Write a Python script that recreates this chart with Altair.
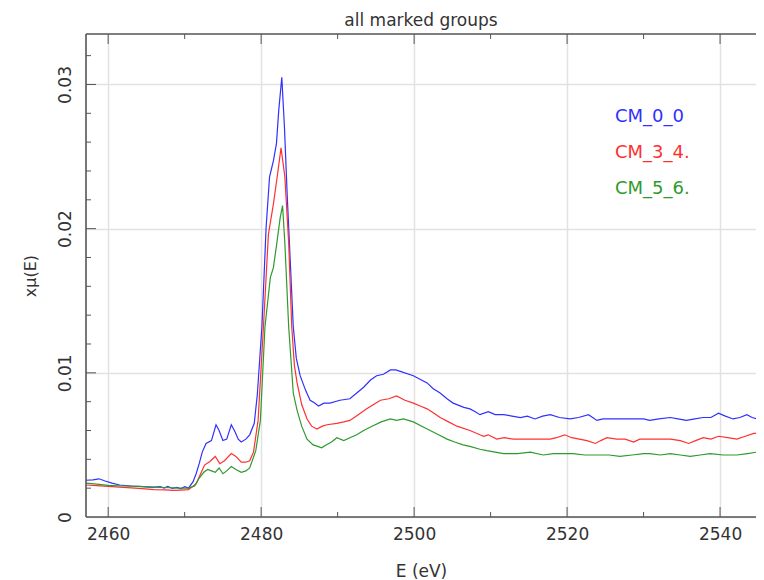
import altair as alt
import pandas as pd

# ---------------- data ----------------
series_names = ["CM_0_0", "CM_3_4.", "CM_5_6."]
series_colors = ["#3030ff", "#ff3030", "#2e9a2e"]

e_blue = [2457.1, 2458.0, 2458.8, 2459.6, 2460.5, 2461.5, 2463.0, 2464.5, 2465.8, 2466.8,
          2467.3, 2467.8, 2468.4, 2469.0, 2469.5, 2470.0, 2470.5, 2471.1, 2471.5, 2471.9,
          2472.3, 2472.8, 2473.5, 2474.1, 2474.5, 2475.0, 2475.5, 2476.1, 2476.6, 2477.0,
          2477.4, 2478.0, 2478.5, 2479.1, 2479.5, 2480.1, 2480.65, 2481.1, 2481.6, 2482.0,
          2482.3, 2482.7, 2483.05, 2483.4, 2483.8, 2484.2, 2484.6, 2485.1, 2485.8, 2486.4,
          2487.0, 2487.5, 2488.2, 2489.0, 2490.3, 2491.6, 2492.5, 2493.4, 2494.3, 2495.1,
          2496.0, 2496.9, 2497.6, 2498.2, 2499.9, 2501.7, 2502.5, 2503.4, 2504.3, 2505.1,
          2506.5, 2507.3, 2508.0, 2508.6, 2509.7, 2510.6, 2511.7, 2512.8, 2513.9, 2514.8,
          2515.8, 2516.8, 2517.8, 2519.0, 2520.4, 2521.5, 2522.8, 2523.9, 2524.7, 2525.6,
          2527.4, 2529.1, 2530.0, 2530.8, 2532.0, 2533.5, 2534.5, 2535.6, 2536.7, 2537.8,
          2538.8, 2539.8, 2540.7, 2541.7, 2542.6, 2543.5, 2544.2, 2544.8, 2545.5]
mu_blue = [0.00255, 0.00258, 0.00265, 0.00250, 0.00235, 0.00222, 0.00215, 0.00210, 0.00205, 0.00210,
           0.00200, 0.00212, 0.00198, 0.00205, 0.00195, 0.00210, 0.00200, 0.00245, 0.00300, 0.00370,
           0.00450, 0.00510, 0.00530, 0.00640, 0.00600, 0.00530, 0.00540, 0.00640, 0.00590, 0.00540,
           0.00520, 0.00540, 0.00570, 0.00650, 0.00850, 0.01320, 0.02010, 0.02360, 0.02470, 0.02590,
           0.02820, 0.03050, 0.02700, 0.02240, 0.01780, 0.01320, 0.01100, 0.00980, 0.00880, 0.00810,
           0.00790, 0.00770, 0.00790, 0.00790, 0.00810, 0.00820, 0.00860, 0.00900, 0.00950, 0.00980,
           0.00990, 0.01020, 0.01020, 0.01010, 0.00980, 0.00930, 0.00890, 0.00860, 0.00820, 0.00790,
           0.00760, 0.00750, 0.00730, 0.00710, 0.00730, 0.00710, 0.00710, 0.00700, 0.00690, 0.00700,
           0.00680, 0.00700, 0.00710, 0.00690, 0.00680, 0.00690, 0.00710, 0.00670, 0.00680, 0.00680,
           0.00680, 0.00680, 0.00680, 0.00670, 0.00680, 0.00690, 0.00680, 0.00670, 0.00680, 0.00690,
           0.00690, 0.00720, 0.00700, 0.00680, 0.00690, 0.00710, 0.00690, 0.00680, 0.00710]

e_red = [2457.1, 2458.5, 2460.0, 2462.0, 2464.0, 2466.0, 2467.5, 2468.5, 2469.5, 2470.5,
         2471.5, 2472.0, 2472.6, 2473.3, 2474.0, 2474.6, 2475.2, 2476.1, 2476.7, 2477.4,
         2478.0, 2478.5, 2479.0, 2479.6, 2480.3, 2480.95, 2481.6, 2482.1, 2482.6, 2483.1,
         2483.6, 2484.0, 2484.35, 2484.7, 2485.3, 2486.0, 2486.6, 2487.3, 2488.0, 2488.6,
         2489.9, 2490.8, 2491.6, 2492.7, 2493.8, 2494.7, 2495.6, 2496.7, 2497.7, 2498.8,
         2499.9, 2500.8, 2501.7, 2502.6, 2503.4, 2504.5, 2505.6, 2507.3, 2508.6, 2509.1,
         2509.7, 2510.8, 2511.8, 2513.0, 2514.5, 2516.0, 2517.8, 2518.6, 2519.7, 2520.6,
         2521.6, 2522.6, 2523.7, 2524.4, 2525.2, 2526.5, 2527.6, 2528.7, 2529.5, 2530.4,
         2532.0, 2533.5, 2534.8, 2535.9, 2536.8, 2537.8, 2538.8, 2539.8, 2541.0, 2542.2,
         2543.3, 2544.4, 2545.8]
mu_red = [0.00222, 0.00218, 0.00212, 0.00205, 0.00198, 0.00190, 0.00188, 0.00185, 0.00187, 0.00190,
          0.00230, 0.00290, 0.00360, 0.00385, 0.00420, 0.00370, 0.00390, 0.00440, 0.00420, 0.00380,
          0.00380, 0.00390, 0.00450, 0.00670, 0.01320, 0.01960, 0.02170, 0.02360, 0.02560, 0.02360,
          0.01900, 0.01320, 0.01050, 0.00930, 0.00780, 0.00680, 0.00630, 0.00610, 0.00630, 0.00640,
          0.00650, 0.00660, 0.00670, 0.00710, 0.00750, 0.00780, 0.00810, 0.00820, 0.00840, 0.00810,
          0.00790, 0.00770, 0.00750, 0.00720, 0.00690, 0.00660, 0.00630, 0.00600, 0.00570, 0.00560,
          0.00570, 0.00540, 0.00550, 0.00540, 0.00540, 0.00540, 0.00540, 0.00550, 0.00570, 0.00550,
          0.00540, 0.00530, 0.00510, 0.00530, 0.00550, 0.00540, 0.00540, 0.00520, 0.00540, 0.00540,
          0.00540, 0.00540, 0.00530, 0.00510, 0.00530, 0.00550, 0.00540, 0.00560, 0.00550, 0.00540,
          0.00560, 0.00580, 0.00580]

e_green = [2457.1, 2458.5, 2460.0, 2462.0, 2464.0, 2466.0, 2468.0, 2469.5, 2470.5, 2471.3,
           2471.9, 2472.5, 2473.0, 2473.5, 2474.0, 2474.5, 2475.0, 2475.5, 2476.1, 2476.7,
           2477.4, 2478.0, 2478.5, 2479.3, 2479.9, 2480.5, 2481.2, 2481.6, 2482.05, 2482.5,
           2482.8, 2483.1, 2483.6, 2484.2, 2484.7, 2485.3, 2486.0, 2486.8, 2487.4, 2487.9,
           2488.5, 2489.2, 2489.9, 2490.8, 2491.6, 2492.5, 2493.4, 2494.5, 2495.7, 2496.9,
           2497.7, 2498.6, 2499.9, 2501.0, 2502.1, 2503.2, 2504.3, 2505.3, 2506.4, 2507.3,
           2508.6, 2509.5, 2510.6, 2511.7, 2513.5, 2515.2, 2516.9, 2518.2, 2519.5, 2520.8,
           2522.3, 2524.0, 2525.5, 2526.9, 2528.5, 2530.0, 2530.8, 2532.2, 2533.5, 2534.8,
           2536.1, 2537.4, 2538.7, 2540.4, 2542.2, 2543.6, 2544.8, 2545.8]
mu_green = [0.00235, 0.00228, 0.00220, 0.00215, 0.00212, 0.00207, 0.00203, 0.00200, 0.00200, 0.00215,
            0.00270, 0.00310, 0.00330, 0.00320, 0.00310, 0.00340, 0.00300, 0.00320, 0.00350, 0.00330,
            0.00310, 0.00320, 0.00340, 0.00460, 0.00670, 0.01320, 0.01660, 0.01730, 0.01900, 0.02080,
            0.02160, 0.01900, 0.01320, 0.00860, 0.00740, 0.00630, 0.00540, 0.00500, 0.00490, 0.00480,
            0.00500, 0.00520, 0.00550, 0.00530, 0.00550, 0.00570, 0.00600, 0.00630, 0.00660, 0.00680,
            0.00670, 0.00680, 0.00660, 0.00630, 0.00600, 0.00570, 0.00540, 0.00520, 0.00500, 0.00490,
            0.00470, 0.00460, 0.00450, 0.00440, 0.00440, 0.00450, 0.00430, 0.00440, 0.00440, 0.00440,
            0.00430, 0.00430, 0.00430, 0.00420, 0.00430, 0.00440, 0.00440, 0.00430, 0.00440, 0.00430,
            0.00420, 0.00430, 0.00440, 0.00430, 0.00430, 0.00440, 0.00450, 0.00440]

x_major = [2460, 2480, 2500, 2520, 2540]
x_minor = [2470, 2490, 2510, 2530]
y_major = [0.0, 0.01, 0.02, 0.03]
y_minor = [0.002, 0.004, 0.006, 0.008, 0.012, 0.014, 0.016, 0.018,
           0.022, 0.024, 0.026, 0.028, 0.032]

x_domain = [2457.1, 2544.7]
y_domain = [0.0, 0.0335]

# ---------------- build ----------------
W, H = 670, 483
FONT = "DejaVu Sans"
TXT = "#333333"
FRAME = "#555555"

frames = []
for name, es, ms in [(series_names[0], e_blue, mu_blue),
                     (series_names[1], e_red, mu_red),
                     (series_names[2], e_green, mu_green)]:
    frames.append(pd.DataFrame({"E": es, "mu": ms, "group": name, "order": range(len(es))}))
df = pd.concat(frames, ignore_index=True)

xs = alt.Scale(domain=x_domain, nice=False, zero=False)
ys = alt.Scale(domain=y_domain, nice=False, zero=False)

ax_x = alt.Axis(values=x_major, grid=True, ticks=False, domain=False,
                tickSize=0, labelPadding=9, format="d", titlePadding=21,
                labelFontSize=17, titleFontSize=17)
ax_y = alt.Axis(values=y_major, grid=True, ticks=False, domain=False,
                tickSize=0, labelPadding=12, labelAngle=-90,
                labelAlign="center", labelBaseline="bottom",
                labelExpr="datum.value == 0 ? '0' : format(datum.value, '.2f')",
                titlePadding=18, labelFontSize=17, titleFontSize=16)
X_TITLE = "E (eV)"
Y_TITLE = "xμ(E)"

lines = alt.Chart(df).mark_line(strokeWidth=1.2, clip=True).encode(
    x=alt.X("E:Q", scale=xs, title=X_TITLE, axis=ax_x),
    y=alt.Y("mu:Q", scale=ys, title=Y_TITLE, axis=ax_y),
    color=alt.Color("group:N", scale=alt.Scale(domain=series_names, range=series_colors),
                    legend=None),
    order="order:Q",
)

def xtick_layer(vals, y0, y1):
    d = pd.DataFrame({"E": vals})
    return alt.Chart(d).mark_rule(color=FRAME, strokeWidth=1).encode(
        x=alt.X("E:Q", scale=xs, title=X_TITLE, axis=ax_x),
        y=alt.value(y0), y2=alt.value(y1))

def ytick_layer(vals, x0, x1):
    d = pd.DataFrame({"mu": vals})
    return alt.Chart(d).mark_rule(color=FRAME, strokeWidth=1).encode(
        y=alt.Y("mu:Q", scale=ys, title=Y_TITLE, axis=ax_y),
        x=alt.value(x0), x2=alt.value(x1))

ticks = [
    xtick_layer(x_major, H, H - 10), xtick_layer(x_minor, H, H - 5),
    xtick_layer(x_major, 0, 10), xtick_layer(x_minor, 0, 5),
    ytick_layer(y_major[1:], 0, 10), ytick_layer(y_minor, 0, 5),
]

one = pd.DataFrame({"k": [0]})
frame_left = alt.Chart(one).mark_rule(color=FRAME, strokeWidth=1.6).encode(
    x=alt.value(0), y=alt.value(0), y2=alt.value(H))
frame_bottom = alt.Chart(one).mark_rule(color=FRAME, strokeWidth=1.6).encode(
    x=alt.value(0), x2=alt.value(W), y=alt.value(H))
frame_top = alt.Chart(one).mark_rule(color=FRAME, strokeWidth=1.6).encode(
    x=alt.value(0), x2=alt.value(W), y=alt.value(0))

legend_layers = []
for i, (name, col) in enumerate(zip(series_names, series_colors)):
    legend_layers.append(
        alt.Chart(pd.DataFrame({"label": [name]})).mark_text(
            align="left", baseline="middle", font=FONT, fontSize=18, color=col
        ).encode(text="label:N", x=alt.value(529), y=alt.value(83 + 36 * i))
    )

chart = alt.layer(lines, *ticks, frame_left, frame_bottom, frame_top, *legend_layers).properties(
    width=W, height=H,
    title=alt.TitleParams("all marked groups", font=FONT, fontSize=17,
                          fontWeight="normal", color=TXT, offset=3),
    autosize=alt.AutoSizeParams(type="none"),
    padding={"left": 78, "top": 26, "right": 0, "bottom": 62},
).configure_view(stroke=None).configure_axis(
    labelFont=FONT, labelColor=TXT,
    titleFont=FONT, titleColor=TXT, titleFontWeight="normal",
    gridColor="#e2e2e2", gridWidth=1.5,
)

chart.save("out.html", embed_options={"renderer": "svg", "actions": False})
